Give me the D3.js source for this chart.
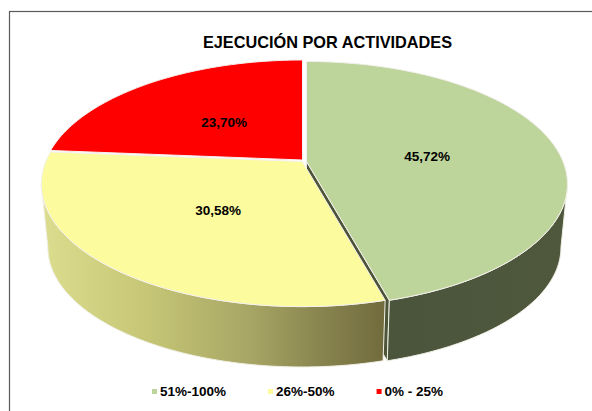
<!DOCTYPE html>
<html><head><meta charset="utf-8">
<script src="https://cdn.jsdelivr.net/npm/d3@7/dist/d3.min.js"></script>
<style>html,body{margin:0;padding:0;background:#fff}svg{display:block}text{font-family:"Liberation Sans",Arial,sans-serif;font-weight:700;fill:#000}</style>
</head><body><svg id="c" width="592" height="411"></svg>
<script>
const categories = ["51%-100%", "26%-50%", "0% - 25%"];
const values = [45.72, 30.58, 23.70];
const labels = ["45,72%", "30,58%", "23,70%"];
const colors = ["#bdd49b", "#fcfb9d", "#ff0000"];
const title = "EJECUCIÓN POR ACTIVIDADES";

const svg = d3.select("#c");
const W = 592, H = 411;
svg.append("rect").attr("x", 9.5).attr("y", 11.5).attr("width", W).attr("height", H).attr("fill", "#fff").attr("stroke", "#5a5a5a").attr("stroke-width", 1.2);

const defs = svg.append("defs");
function grad(id, x1, x2, stops) {
  const g = defs.append("linearGradient").attr("id", id).attr("gradientUnits", "userSpaceOnUse")
    .attr("x1", x1).attr("x2", x2).attr("y1", 0).attr("y2", 0);
  stops.forEach(s => g.append("stop").attr("offset", s[0]).attr("stop-color", s[1]));
}
grad("sideG", 390, 560, [[0, "#4b553c"], [1, "#4f583c"]]);
grad("sideY", 45, 385, [[0, "#dcdc8e"], [0.3, "#c6c676"], [0.6, "#a8a665"], [0.8, "#8a8650"], [1, "#716b3d"]]);
grad("sideR", 45, 385, [[0, "#800"], [1, "#800"]]);
const sideFill = ["url(#sideG)", "url(#sideY)", "url(#sideR)"];

// perspective projection of the tilted disc
const k = 0.184, rx = 256.5, ry = 118.4, cx = 303.5, cy = 160.5, depth = 64, shrink = 0.975;
const offsets = [[3, 1], [-1.2, 1], [-1, -0.5]];
function project(theta, r, i, low) {
  const X = Math.sin(theta) * r, Y = -Math.cos(theta) * r, d = 1 - k * Y;
  const s = low ? shrink : 1;
  return [cx + offsets[i][0] + s * rx * X / d,
          cy + offsets[i][1] + (low ? depth : 0) + s * ry * Y / d];
}
function samples(a0, a1) {
  const n = Math.max(2, Math.ceil(Math.abs(a1 - a0) * 60));
  return d3.range(n + 1).map(j => a0 + (a1 - a0) * j / n);
}
const line = d3.line();
const arcs = d3.pie().sort(null).value(d => d).startAngle(0).endAngle(2 * Math.PI)(values);
const visA = Math.acos(-k), visB = 2 * Math.PI - visA;

// cut faces and rim
arcs.forEach((a, i) => {
  // radial cut face seen between slices
  if (i === 0) {
    const apex = project(0, 0, i, false), edge = project(a.endAngle, 1, i, false),
          edgeLow = project(a.endAngle, 1, i, true), apexLow = project(0, 0, i, true);
    svg.append("path").attr("d", line([apex, edge, edgeLow, apexLow]) + "Z")
      .attr("fill", "#4d5539").attr("stroke", "#e8e8e0").attr("stroke-width", 1);
  }
  const s = Math.max(a.startAngle, visA), e = Math.min(a.endAngle, visB);
  if (e <= s) return;
  const top = samples(s, e).map(t => project(t, 1, i, false));
  const low = samples(e, s).map(t => project(t, 1, i, true));
  svg.append("path").attr("d", line(top.concat(low)) + "Z")
    .attr("fill", sideFill[i]).attr("stroke", "#f0f0e6").attr("stroke-width", 1);
});
// top faces, painted back to front
[2, 1, 0].forEach(i => {
  const a = arcs[i];
  const pts = [project(0, 0, i, false)].concat(samples(a.startAngle, a.endAngle).map(t => project(t, 1, i, false)));
  svg.append("path").attr("d", line(pts) + "Z").attr("fill", colors[i])
    .attr("stroke", "#f4f0ee").attr("stroke-width", 1).attr("stroke-linejoin", "round");
});
// value labels
arcs.forEach((a, i) => {
  const p = project((a.startAngle + a.endAngle) / 2, 0.48, i, false);
  svg.append("text").attr("x", p[0]).attr("y", p[1] + 2).attr("dy", "0.35em").attr("text-anchor", "middle")
    .attr("font-size", 13.5).text(labels[i]);
});
svg.append("text").attr("x", 327.5).attr("y", 47.5).attr("text-anchor", "middle").attr("font-size", 16.3).text(title);

// legend
let lx = 152;
categories.forEach((c, i) => {
  svg.append("rect").attr("x", lx).attr("y", 389).attr("width", 5).attr("height", 5).attr("fill", colors[i]);
  const t = svg.append("text").attr("x", lx + 8).attr("y", 396).attr("font-size", 13.5).text(c);
  lx += 8 + t.node().getComputedTextLength() + 42;
});
</script></body></html>
